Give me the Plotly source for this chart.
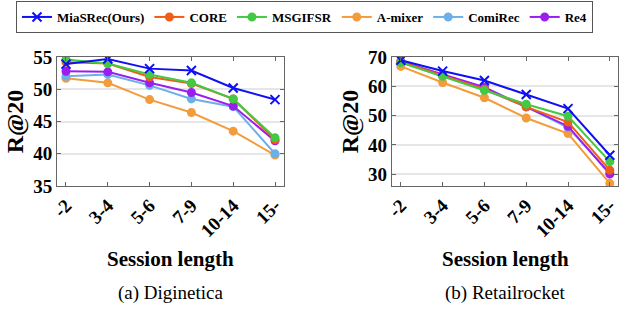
import plotly.graph_objects as go

categories = ["-2", "3-4", "5-6", "7-9", "10-14", "15-"]
methods = ["MiaSRec(Ours)", "CORE", "MSGIFSR", "A-mixer", "ComiRec", "Re4"]
colors = {"MiaSRec(Ours)": "#1010f5", "CORE": "#f25c19", "MSGIFSR": "#43c943",
          "A-mixer": "#f39c3c", "ComiRec": "#6cb0ea", "Re4": "#9b1fec"}

# Diginetica R@20
dig_miasrec = [53.9, 54.7, 53.2, 52.9, 50.2, 48.4]
dig_core = [54.2, 54.0, 51.9, 50.9, 48.5, 42.2]
dig_msgifsr = [54.6, 54.0, 52.3, 51.0, 48.5, 42.5]
dig_amixer = [51.7, 51.0, 48.4, 46.4, 43.5, 39.8]
dig_comirec = [52.0, 52.3, 50.6, 48.5, 47.3, 40.0]
dig_re4 = [52.8, 52.7, 51.0, 49.5, 47.4, 42.0]

# Retailrocket R@20
ret_miasrec = [68.9, 65.2, 62.0, 57.2, 52.4, 36.5]
ret_core = [68.4, 63.8, 59.0, 53.0, 47.8, 31.4]
ret_msgifsr = [68.1, 63.4, 58.6, 53.9, 49.8, 34.3]
ret_amixer = [66.8, 61.3, 56.1, 49.2, 43.9, 26.9]
ret_comirec = [68.2, 63.6, 58.9, 53.0, 45.9, 30.5]
ret_re4 = [68.5, 64.1, 59.7, 53.0, 46.4, 30.1]

dig = {"MiaSRec(Ours)": dig_miasrec, "CORE": dig_core, "MSGIFSR": dig_msgifsr,
       "A-mixer": dig_amixer, "ComiRec": dig_comirec, "Re4": dig_re4}
ret = {"MiaSRec(Ours)": ret_miasrec, "CORE": ret_core, "MSGIFSR": ret_msgifsr,
       "A-mixer": ret_amixer, "ComiRec": ret_comirec, "Re4": ret_re4}

draw_order = ["A-mixer", "ComiRec", "Re4", "CORE", "MSGIFSR", "MiaSRec(Ours)"]
SERIF = "Liberation Serif"

fig = go.Figure()
for panel, data, xa, ya in [(0, dig, "x", "y"), (1, ret, "x2", "y2")]:
    for m in draw_order:
        is_ours = m == "MiaSRec(Ours)"
        fig.add_trace(go.Scatter(
            x=categories, y=data[m], xaxis=xa, yaxis=ya,
            mode="lines+markers", name="<b>" + m + "</b>",
            legendrank=methods.index(m) + 1,
            showlegend=(panel == 0),
            line=dict(color=colors[m], width=2),
            marker=dict(symbol="x-thin" if is_ours else "circle",
                        size=9 if is_ours else 7,
                        color=colors[m],
                        line=dict(color=colors[m], width=2)),
        ))

axis_common = dict(showline=True, linecolor="#666", linewidth=1, mirror="allticks",
                   ticks="inside", ticklen=4, tickcolor="#666", zeroline=False)

xtick_text = ["<b>" + c + "</b>" for c in categories]

fig.update_layout(
    width=619, height=315,
    margin=dict(l=0, r=0, t=0, b=0, autoexpand=False),
    plot_bgcolor="white", paper_bgcolor="white",
    font=dict(family=SERIF, color="black"),
    legend=dict(orientation="h", x=16 / 619, y=1 - 1 / 315, xanchor="left", yanchor="top",
                xref="container", yref="container",
                bordercolor="#555", borderwidth=1, bgcolor="white",
                font=dict(family=SERIF, size=13, color="black"),
                itemwidth=30, traceorder="normal"),
    xaxis=dict(domain=[0.0921, 0.4588], anchor="y", type="category", range=[-0.215, 5.215],
               tickangle=-45, showgrid=False, tickmode="array", tickvals=categories,
               ticktext=xtick_text,
               tickfont=dict(family=SERIF, size=19), **axis_common),
    yaxis=dict(domain=[0.4095, 0.819], anchor="x", range=[35, 55], dtick=5,
               showgrid=True, gridcolor="#e6e6e6", gridwidth=1.5,
               tickmode="array", tickvals=[35, 40, 45, 50, 55],
               ticktext=["<b>%d</b>" % v for v in [35, 40, 45, 50, 55]],
               tickfont=dict(family=SERIF, size=19),
               title=dict(text="<b>R@20</b>", font=dict(family=SERIF, size=24), standoff=2),
               **axis_common),
    xaxis2=dict(domain=[0.633, 0.998], anchor="y2", type="category", range=[-0.215, 5.19],
                tickangle=-45, showgrid=False, tickmode="array", tickvals=categories,
                ticktext=xtick_text,
                tickfont=dict(family=SERIF, size=19), **axis_common),
    yaxis2=dict(domain=[0.4095, 0.819], anchor="x2", range=[26, 70], dtick=10,
                showgrid=True, gridcolor="#e6e6e6", gridwidth=1.5,
                tickmode="array", tickvals=[30, 40, 50, 60, 70],
                ticktext=["<b>%d</b>" % v for v in [30, 40, 50, 60, 70]],
                tickfont=dict(family=SERIF, size=19),
                title=dict(text="<b>R@20</b>", font=dict(family=SERIF, size=24), standoff=2),
                **axis_common),
)

for xc, cap in [(170.5 / 619, "(a) Diginetica"), (505 / 619, "(b) Retailrocket")]:
    fig.add_annotation(x=xc, y=1 - 259 / 315, xref="paper", yref="paper",
                       text="<b>Session length</b>", showarrow=False,
                       font=dict(family=SERIF, size=21, color="black"),
                       xanchor="center", yanchor="middle")
    fig.add_annotation(x=xc, y=1 - 293 / 315, xref="paper", yref="paper",
                       text=cap, showarrow=False,
                       font=dict(family=SERIF, size=19, color="black"),
                       xanchor="center", yanchor="middle")

fig.write_html("out.html",
               config={"displayModeBar": False},
               post_script="document.body.style.margin='0';document.body.style.overflow='hidden';")
